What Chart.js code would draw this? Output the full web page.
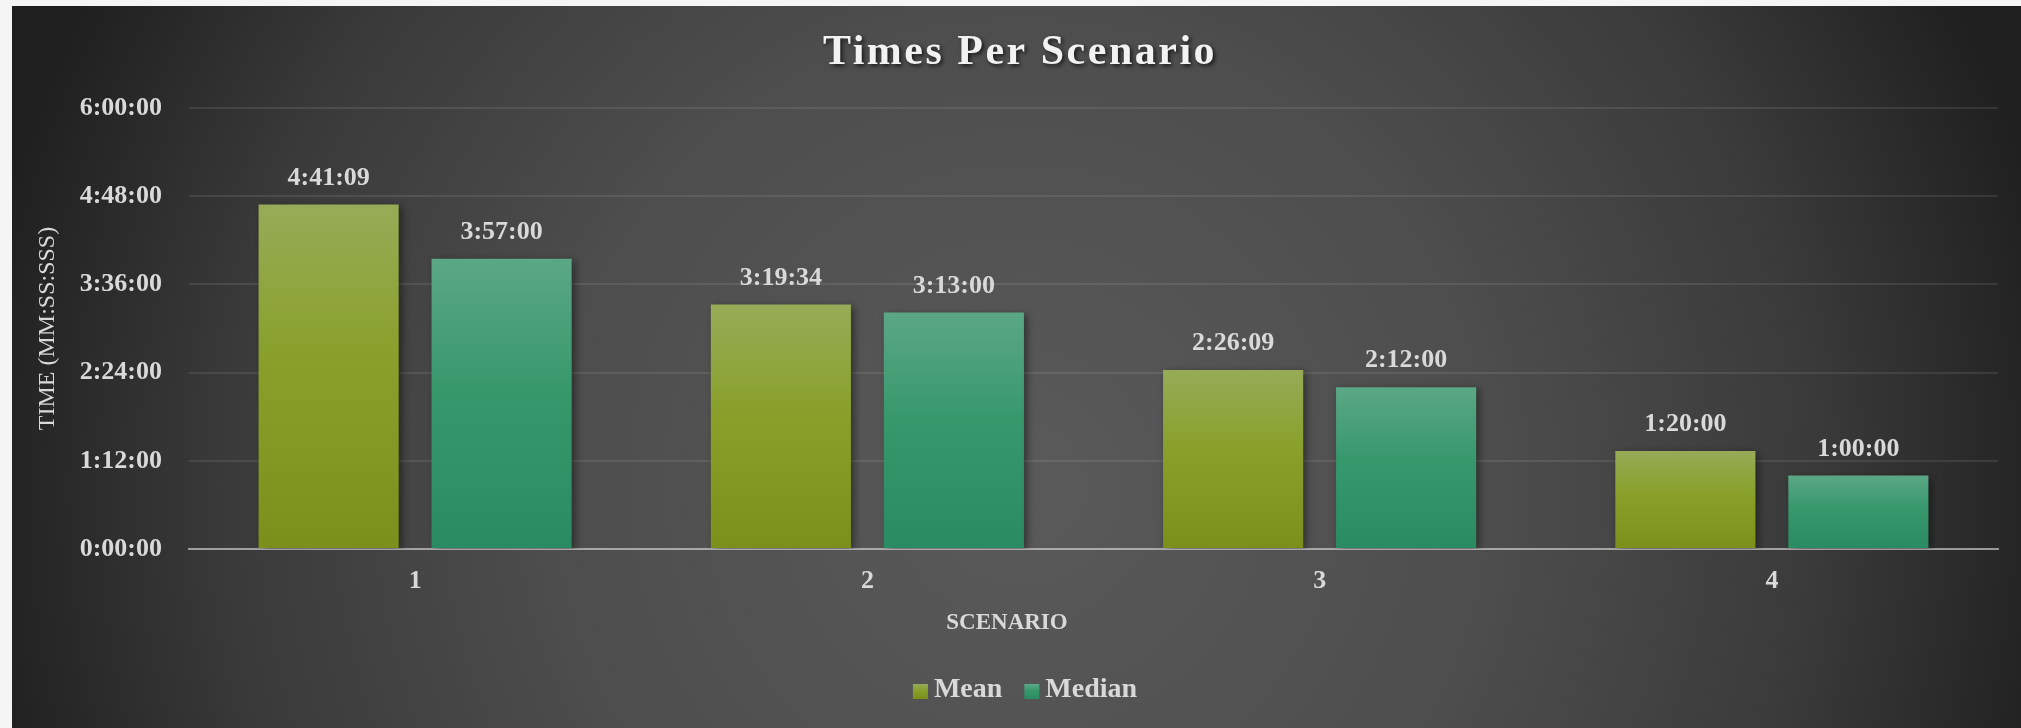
<!DOCTYPE html>
<html>
<head>
<meta charset="utf-8">
<title>Times Per Scenario</title>
<script src="https://cdn.jsdelivr.net/npm/chart.js@4.4.0/dist/chart.umd.min.js"></script>
<style>
  html, body { margin: 0; padding: 0; background: #f5f5f5; }
  body { width: 2021px; height: 728px; overflow: hidden; position: relative; }
  #timesChart { position: absolute; left: 12px; top: 6px; }
</style>
</head>
<body>
<canvas id="timesChart" width="2009" height="722"></canvas>
<script>
// scenarios on the x axis
const scenarios = ['1', '2', '3', '4'];
// times in seconds (4:41:09, 3:19:34, 2:26:09, 1:20:00)
const meanTimes = [16869, 11974, 8769, 4800];
// times in seconds (3:57:00, 3:13:00, 2:12:00, 1:00:00)
const medianTimes = [14220, 11580, 7920, 3600];
// y axis ticks, one every 1:12:00
const tickSeconds = [0, 4320, 8640, 12960, 17280, 21600];
const tickLabels = ['0:00:00', '1:12:00', '2:24:00', '3:36:00', '4:48:00', '6:00:00'];

const FONT = 'Liberation Serif';
const TEXT = '#d9d9d9';

const meanStops = ['#97ab57', '#88a02a', '#7a901a'];
const medianStops = ['#5ba786', '#37986c', '#2a8a62'];

function pad2(n) { return (n < 10 ? '0' : '') + n; }
function hms(sec) {
  const h = Math.floor(sec / 3600);
  const m = Math.floor((sec % 3600) / 60);
  return h + ':' + pad2(m) + ':' + pad2(sec % 60);
}

function vGradient(ctx, top, bottom, stops) {
  const g = ctx.createLinearGradient(0, top, 0, bottom);
  g.addColorStop(0, stops[0]);
  g.addColorStop(0.45, stops[1]);
  g.addColorStop(1, stops[2]);
  return g;
}

// vertical gradient per bar, light at the top
function barFill(stops) {
  return function (c) {
    const chart = c.chart;
    if (!chart.chartArea || c.type !== 'data') return stops[1];
    const y = chart.scales.y;
    return vGradient(chart.ctx, y.getPixelForValue(c.parsed.y), y.getPixelForValue(0), stops);
  };
}

const background = {
  id: 'background',
  beforeDraw(chart) {
    const { ctx, width, height } = chart;
    const g = ctx.createRadialGradient(1010, 480, 0, 1010, 480, 1060);
    g.addColorStop(0, '#5a5a5a');
    g.addColorStop(0.45, '#4d4d4d');
    g.addColorStop(0.75, '#3a3a3a');
    g.addColorStop(1, '#1f1f1f');
    ctx.save();
    ctx.fillStyle = g;
    ctx.fillRect(0, 0, width, height);
    ctx.restore();
  }
};

const barShadow = {
  id: 'barShadow',
  beforeDatasetDraw(chart) {
    const ctx = chart.ctx;
    ctx.save();
    ctx.shadowColor = 'rgba(0,0,0,0.45)';
    ctx.shadowBlur = 8;
    ctx.shadowOffsetX = 3;
    ctx.shadowOffsetY = 2;
  },
  afterDatasetDraw(chart) {
    chart.ctx.restore();
  }
};

const valueLabels = {
  id: 'valueLabels',
  afterDatasetsDraw(chart) {
    const ctx = chart.ctx;
    ctx.save();
    ctx.font = 'bold 26px "' + FONT + '"';
    ctx.fillStyle = TEXT;
    ctx.textAlign = 'center';
    ctx.textBaseline = 'alphabetic';
    chart.data.datasets.forEach((ds, i) => {
      chart.getDatasetMeta(i).data.forEach((bar, j) => {
        ctx.fillText(hms(ds.data[j]), bar.x, bar.y - 20);
      });
    });
    ctx.restore();
  }
};

// chart title, x axis title and the legend row
const titles = {
  id: 'titles',
  afterDraw(chart) {
    const ctx = chart.ctx;
    ctx.save();
    ctx.textAlign = 'center';
    ctx.font = 'bold 23px "' + FONT + '"';
    ctx.fillStyle = TEXT;
    ctx.textBaseline = 'middle';
    ctx.fillText('SCENARIO', 995, 617);

    // legend: box, 6px gap, name, 22px to the next item
    ctx.font = 'bold 28px "' + FONT + '"';
    ctx.textAlign = 'left';
    ctx.textBaseline = 'alphabetic';
    const items = chart.data.datasets.map(ds => ({ text: ds.label, stops: ds.stops, w: ctx.measureText(ds.label).width }));
    const total = items.reduce((s, it) => s + 15 + 6 + it.w, 0) + 22 * (items.length - 1);
    let x = 1013 - total / 2;
    const base = 691;
    items.forEach(it => {
      ctx.fillStyle = vGradient(ctx, base - 13, base + 2, it.stops);
      ctx.fillRect(x, base - 13, 15, 15);
      x += 21;
      ctx.fillStyle = TEXT;
      ctx.fillText(it.text, x, base);
      x += it.w + 22;
    });

    ctx.font = 'bold 42px "' + FONT + '"';
    ctx.textAlign = 'center';
    ctx.letterSpacing = '2.5px';
    ctx.shadowColor = 'rgba(0,0,0,0.7)';
    ctx.shadowBlur = 4;
    ctx.shadowOffsetX = 2;
    ctx.shadowOffsetY = 2;
    ctx.fillStyle = '#f2f2f2';
    ctx.fillText('Times Per Scenario', 1008, 58);
    ctx.restore();
  }
};

Chart.defaults.font.family = FONT;
Chart.defaults.color = TEXT;

new Chart(document.getElementById('timesChart'), {
  type: 'bar',
  data: {
    labels: scenarios,
    datasets: [
      { label: 'Mean', data: meanTimes, backgroundColor: barFill(meanStops), stops: meanStops },
      { label: 'Median', data: medianTimes, backgroundColor: barFill(medianStops), stops: medianStops }
    ]
  },
  options: {
    responsive: false,
    animation: false,
    devicePixelRatio: 1,
    categoryPercentage: 0.765,
    barPercentage: 0.81,
    layout: { padding: { top: 102, right: 23, bottom: 69, left: 0 } },
    scales: {
      x: {
        z: 1,
        grid: { display: false, drawTicks: false },
        border: { display: true, color: 'rgba(217,217,217,0.6)', width: 2 },
        ticks: { padding: 17, color: TEXT, font: { size: 26, weight: 'bold' } },
        afterFit(scale) { scale.height = 110; }
      },
      y: {
        min: 0,
        max: tickSeconds[tickSeconds.length - 1],
        afterBuildTicks(scale) { scale.ticks = tickSeconds.map(v => ({ value: v })); },
        grid: { color: 'rgba(255,255,255,0.09)', lineWidth: 2, drawTicks: false },
        border: { display: false },
        ticks: {
          padding: 27,
          color: TEXT,
          font: { size: 26, weight: 'bold' },
          callback: (value, index) => tickLabels[index]
        },
        title: {
          display: true,
          text: 'TIME (MM:SS:SSS)',
          color: TEXT,
          font: { size: 24 },
          padding: { top: 21, bottom: 0 }
        },
        afterFit(scale) { scale.width = 177; }
      }
    },
    plugins: {
      title: { display: false },
      tooltip: { enabled: false },
      legend: { display: false }
    }
  },
  plugins: [background, barShadow, valueLabels, titles]
});
</script>
</body>
</html>
